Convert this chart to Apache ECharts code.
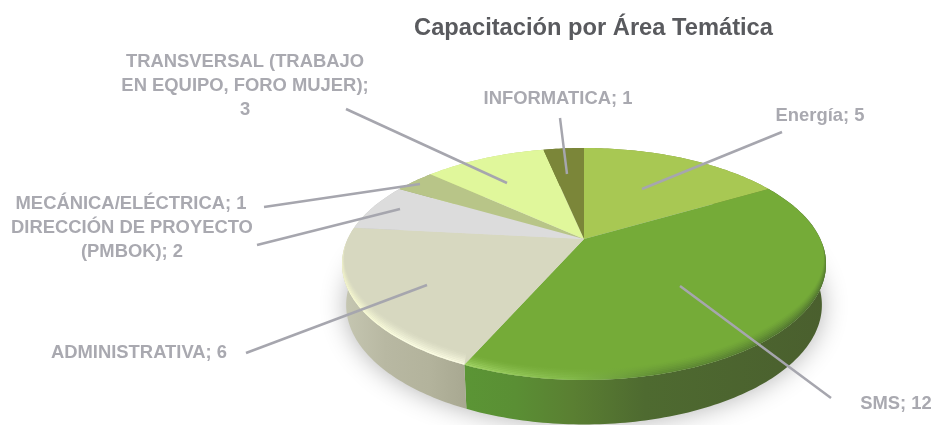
<!DOCTYPE html>
<html><head><meta charset="utf-8">
<style>html,body{margin:0;padding:0;background:#fff}#c{width:935px;height:425px}</style>
<script src="https://cdn.jsdelivr.net/npm/echarts@6/dist/echarts.min.js"></script>
</head><body><div id="c"></div>
<script>
// --- data ---
const categories = ['Energía','SMS','ADMINISTRATIVA','DIRECCIÓN DE PROYECTO (PMBOK)','MECÁNICA/ELÉCTRICA','TRANSVERSAL (TRABAJO EN EQUIPO, FORO MUJER)','INFORMATICA'];
const values = [5,12,6,2,1,3,1];
const chartTitle = 'Capacitación por Área Temática';
// --- styles & layout, by slice ---
const topColors = ['#a8c853','#75ab38','#d7d8c0','#dcdcdc','#b8c588','#e0f79b','#7b8639'];
const wallStops = [
  [[0,'#8a9a45'],[1,'#7d8c3e']],
  [[0,'#5b9535'],[0.14,'#5a8f34'],[0.3,'#5a7f32'],[0.5,'#4e6a30'],[1,'#4a5f2e']],
  [[0,'#c6c7b2'],[0.35,'#b8b8a2'],[0.7,'#b3b39c'],[1,'#a8a891']],
  [[0,'#c8c8c8'],[1,'#bcbcbc']],
  [[0,'#a5b078'],[1,'#9aa570']],
  [[0,'#c8dc8a'],[1,'#bccf80']],
  [[0,'#6d7732'],[1,'#667030']]
];
const bevelStops = [
  [[0,'rgba(255,255,255,0)'],[1,'rgba(255,255,255,0)']],
  [[0,'rgba(165,215,105,.95)'],[0.3,'rgba(135,190,80,.8)'],[0.55,'rgba(85,125,50,.7)'],[1,'rgba(70,100,45,.85)']],
  [[0,'rgba(248,250,205,1)'],[0.5,'rgba(250,252,225,1)'],[1,'rgba(250,250,225,1)']],
  [[0,'rgba(232,238,200,.8)'],[1,'rgba(232,238,200,.1)']],
  [[0,'rgba(255,255,255,0)'],[1,'rgba(255,255,255,0)']],
  [[0,'rgba(255,255,255,0)'],[1,'rgba(255,255,255,0)']],
  [[0,'rgba(255,255,255,0)'],[1,'rgba(255,255,255,0)']]
];
const labelLayout = [
  {text:'Energía; {v}',            x:820,y:116, line:[782,132,642,189]},
  {text:'SMS; {v}',                x:896,y:404, line:[831,398,680,286]},
  {text:'ADMINISTRATIVA; {v}',     x:139,y:353, line:[246,353,427,285]},
  {text:'DIRECCIÓN DE PROYECTO\n(PMBOK); {v}', x:132,y:240, line:[257,245,400,209]},
  {text:'MECÁNICA/ELÉCTRICA; {v}', x:131,y:204, line:[264,207,420,184]},
  {text:'TRANSVERSAL (TRABAJO\nEN EQUIPO, FORO MUJER);\n{v}', x:245,y:86, line:[346,109,507,183]},
  {text:'INFORMATICA; {v}',        x:558,y:99,  line:[560,118,567,174]}
];
// --- projected disk geometry: a tilted circle seen in perspective ---
const apex = {x:584,y:239}, A = 236.3, B = 110.6, K = 0.2155;
const ellipseC = {x:585,y:264};
const baseC = {x:585,y:305}, baseSX = 0.983, baseSY = 1.03;
const total = values.reduce((a,b)=>a+b,0);
const starts = values.map((_,i)=>values.slice(0,i).reduce((a,b)=>a+b,0));
function rimPoint(t){ // t in radians, clockwise from the top
  const u=Math.sin(t), v=-Math.cos(t), d=1-K*v;
  return {x:apex.x+A*u/d, y:apex.y+B*v/d, u, v};
}
function basePoint(t){
  const p=rimPoint(t);
  return [baseC.x+(p.x-ellipseC.x)*baseSX, baseC.y+(p.y-ellipseC.y)*baseSY];
}
function arc(a0,a1,fn){
  const n=Math.max(2,Math.ceil((a1-a0)/(Math.PI/180))), out=[];
  for(let i=0;i<=n;i++) out.push(fn(a0+(a1-a0)*i/n));
  return out;
}
function range(api){
  const s=api.value(1), v=api.value(2);
  return [s/total*2*Math.PI,(s+v)/total*2*Math.PI];
}
const rows = values.map((v,i)=>[i,starts[i],v]);
function hgrad(stops){
  return new echarts.graphic.LinearGradient(0,0,1,0,stops.map(s=>({offset:s[0],color:s[1]})));
}
function renderWall(params,api){
  const i=api.value(0), [a0,a1]=range(api);
  const top=arc(a0,a1,t=>{const p=rimPoint(t);return [p.x,p.y];});
  const base=arc(a0,a1,basePoint).reverse();
  const children=[];
  if(i===0){
    const ring=arc(0,2*Math.PI,basePoint);
    children.push({type:'polygon',shape:{points:ring},style:{fill:'#ddd',shadowBlur:26,shadowColor:'rgba(0,0,0,.3)',shadowOffsetY:0}});
  }
  children.push({type:'polygon',shape:{points:top.concat(base)},style:{fill:hgrad(wallStops[i])}});
  return {type:'group',children};
}
function renderTop(params,api){
  const i=api.value(0), [a0,a1]=range(api);
  const rim=arc(a0,a1,t=>{const p=rimPoint(t);return [p.x,p.y];});
  const children=[{type:'polygon',shape:{points:[[apex.x,apex.y]].concat(rim)},style:{fill:topColors[i]}}];
  // soft bevel along the near edge, as stacked translucent bands
  const layers=7, bandH=11;
  const off=(t,k)=>{const p=rimPoint(t);const f=Math.max(0,Math.min(1,(p.v+0.25)/1.0));
    return [p.x-p.u*5*f*k, p.y-bandH*f*k];};
  for(let l=0;l<layers;l++){
    const k0=l/layers,k1=(l+1)/layers;
    const outer=arc(a0,a1,t=>off(t,k0));
    const inner=arc(a0,a1,t=>off(t,k1)).reverse();
    children.push({type:'polygon',shape:{points:outer.concat(inner)},
      style:{fill:hgrad(bevelStops[i]),opacity:Math.pow(1-k0,1.4)}});
  }
  return {type:'group',children};
}
function renderLabel(params,api){
  const i=api.value(0), L=labelLayout[i], v=api.value(2);
  return {type:'group',children:[
    {type:'line',shape:{x1:L.line[0],y1:L.line[1],x2:L.line[2],y2:L.line[3]},
     style:{stroke:'#a6a6ae',lineWidth:2.5,lineCap:'butt'}},
    {type:'text',style:{text:L.text.replace('{v}',v),x:L.x,y:L.y,align:'center',verticalAlign:'middle',
      fill:'#a9a9b0',font:'bold 18.4px "Liberation Sans", Arial, sans-serif',lineHeight:24}}
  ]};
}
const chart=echarts.init(document.getElementById('c'),null,{renderer:'canvas'});
chart.setOption({
  animation:false,
  backgroundColor:'#ffffff',
  title:{text:chartTitle,left:588.5,top:11,textAlign:'center',
    textStyle:{color:'#595a5e',fontSize:23.7,fontWeight:'bold',fontFamily:'"Liberation Sans", Arial, sans-serif'}},
  series:[
    {type:'custom',name:'wall',coordinateSystem:'none',data:rows,renderItem:renderWall,silent:true,z:1},
    {type:'custom',name:'top',coordinateSystem:'none',data:rows,renderItem:renderTop,silent:true,z:2},
    {type:'custom',name:'labels',coordinateSystem:'none',data:rows,renderItem:renderLabel,silent:true,z:3}
  ]
});
</script></body></html>
